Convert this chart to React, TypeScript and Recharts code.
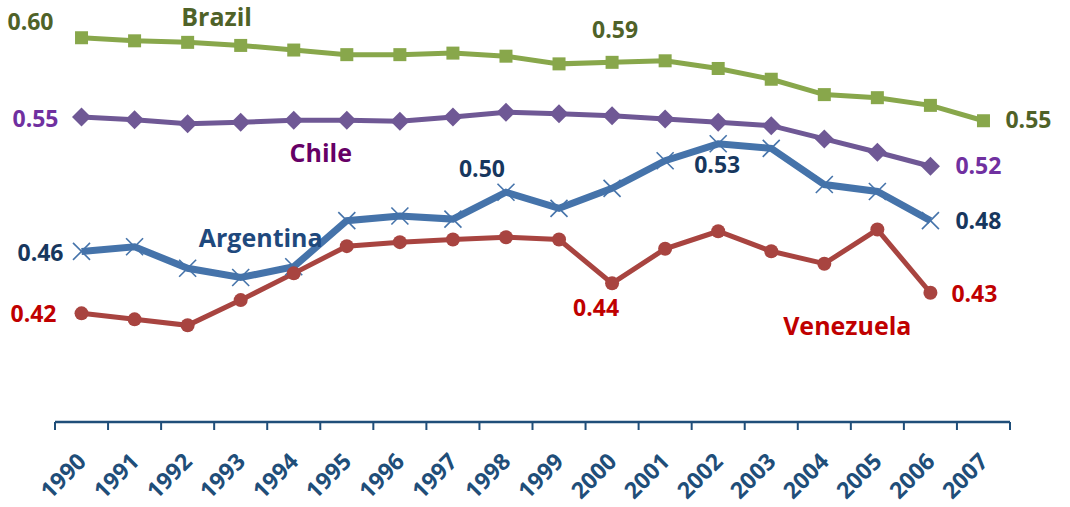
import React from 'react';
import { LineChart, Line, XAxis, YAxis } from 'recharts';

const years = ['1990','1991','1992','1993','1994','1995','1996','1997','1998','1999','2000','2001','2002','2003','2004','2005','2006','2007'];
const brazil = [0.600, 0.598, 0.597, 0.595, 0.592, 0.589, 0.589, 0.590, 0.588, 0.583, 0.584, 0.585, 0.580, 0.573, 0.563, 0.561, 0.556, 0.546];
const chile = [0.5485, 0.5467, 0.5441, 0.5450, 0.5463, 0.5463, 0.5456, 0.5485, 0.5515, 0.5506, 0.5493, 0.5472, 0.5450, 0.5428, 0.5342, 0.5255, 0.5164, null];
const argentina = [0.461, 0.464, 0.450, 0.444, 0.451, 0.481, 0.484, 0.482, 0.4995, 0.489, 0.502, 0.520, 0.531, 0.528, 0.5045, 0.500, 0.481, null];
const venezuela = [0.4207, 0.4168, 0.4129, 0.4293, 0.4467, 0.4644, 0.4670, 0.4687, 0.4702, 0.4687, 0.4402, 0.4627, 0.4741, 0.4611, 0.4530, 0.4752, 0.4341, null];

const seriesNames = ['Brazil', 'Chile', 'Argentina', 'Venezuela'];

// text annotations
const valueLabels = [
  { series: 'Brazil', index: 0, text: '0.60' },
  { series: 'Brazil', index: 10, text: '0.59' },
  { series: 'Brazil', index: 17, text: '0.55' },
  { series: 'Chile', index: 0, text: '0.55' },
  { series: 'Chile', index: 16, text: '0.52' },
  { series: 'Argentina', index: 0, text: '0.46' },
  { series: 'Argentina', index: 8, text: '0.50' },
  { series: 'Argentina', index: 12, text: '0.53' },
  { series: 'Argentina', index: 16, text: '0.48' },
  { series: 'Venezuela', index: 0, text: '0.42' },
  { series: 'Venezuela', index: 10, text: '0.44' },
  { series: 'Venezuela', index: 16, text: '0.43' },
];
const nameLabels = [
  { series: 'Brazil', index: 2, text: 'Brazil' },
  { series: 'Chile', index: 4, text: 'Chile' },
  { series: 'Argentina', index: 3, text: 'Argentina' },
  { series: 'Venezuela', index: 14, text: 'Venezuela' },
];

// placement offsets (style, separate from data)
const labelPlacement: Record<string, { anchor: string; dx: number; dy: number }> = {
  'Brazil-0': { anchor: 'end', dx: -28, dy: -8 },
  'Brazil-10': { anchor: 'middle', dx: 3, dy: -24 },
  'Brazil-17': { anchor: 'start', dx: 22, dy: 7 },
  'Chile-0': { anchor: 'end', dx: -23, dy: 10 },
  'Chile-16': { anchor: 'start', dx: 25, dy: 8 },
  'Argentina-0': { anchor: 'end', dx: -18, dy: 10 },
  'Argentina-8': { anchor: 'end', dx: -1, dy: -15 },
  'Argentina-12': { anchor: 'middle', dx: -1, dy: 29 },
  'Argentina-16': { anchor: 'start', dx: 25, dy: 8 },
  'Venezuela-0': { anchor: 'end', dx: -25, dy: 9 },
  'Venezuela-10': { anchor: 'middle', dx: -16, dy: 33 },
  'Venezuela-16': { anchor: 'start', dx: 21, dy: 9 },
  'name-Brazil-2': { anchor: 'middle', dx: 29, dy: -16 },
  'name-Chile-4': { anchor: 'middle', dx: 27, dy: 42 },
  'name-Argentina-3': { anchor: 'middle', dx: 20, dy: -31 },
  'name-Venezuela-14': { anchor: 'middle', dx: 23, dy: 71 },
};

const style: Record<string, any> = {
  Brazil: { stroke: '#88A74B', width: 5, valueColor: '#4F6228', nameColor: '#4F6228' },
  Chile: { stroke: '#6F5895', width: 5, valueColor: '#7030A0', nameColor: '#660066' },
  Argentina: { stroke: '#4573AA', width: 7, valueColor: '#17375E', nameColor: '#1F497D' },
  Venezuela: { stroke: '#A84440', width: 5, valueColor: '#C00000', nameColor: '#C00000' },
};

const data = years.map((y, i) => ({
  year: y,
  Brazil: brazil[i],
  Chile: chile[i],
  Argentina: argentina[i],
  Venezuela: venezuela[i],
}));

const FONT = '"Open Sans", "Noto Sans", sans-serif';
const W = 1070;
const H = 507;
const M = { top: 7, right: 60, left: 55, bottom: 0 };
const BAND = (W - M.left - M.right) / years.length;
const AXIS_COLOR = '#1F4E79';

const Marker = ({ series, cx, cy }: any) => {
  const c = style[series].stroke;
  if (series === 'Brazil') {
    return <rect x={cx - 6.5} y={cy - 6.5} width={13} height={13} fill={c} />;
  }
  if (series === 'Chile') {
    return <polygon points={`${cx},${cy - 9.5} ${cx + 9.5},${cy} ${cx},${cy + 9.5} ${cx - 9.5},${cy}`} fill={c} />;
  }
  if (series === 'Argentina') {
    const r = 8.5;
    return (
      <g stroke={c} strokeWidth={1.6}>
        <line x1={cx - r} y1={cy - r} x2={cx + r} y2={cy + r} />
        <line x1={cx - r} y1={cy + r} x2={cx + r} y2={cy - r} />
      </g>
    );
  }
  return <circle cx={cx} cy={cy} r={7} fill={c} />;
};

const makeDot = (series: string) => (props: any) => {
  const { cx, cy, index, value } = props;
  if (cx == null || cy == null || value == null || Number.isNaN(cy)) return <g key={`${series}-d-${index}`} />;
  const vl = valueLabels.filter((l) => l.series === series && l.index === index);
  const nl = nameLabels.filter((l) => l.series === series && l.index === index);
  return (
    <g key={`${series}-d-${index}`}>
      <Marker series={series} cx={cx} cy={cy} />
      {vl.map((l) => {
        const p = labelPlacement[`${series}-${index}`];
        return (
          <text key={`v-${l.text}`} x={cx + p.dx} y={cy + p.dy} textAnchor={p.anchor as any}
            fontFamily={FONT} fontWeight={700} fontSize={23} fill={style[series].valueColor}>
            {l.text}
          </text>
        );
      })}
      {nl.map((l) => {
        const p = labelPlacement[`name-${series}-${index}`];
        return (
          <text key={`n-${l.text}`} x={cx + p.dx} y={cy + p.dy} textAnchor={p.anchor as any}
            fontFamily={FONT} fontWeight={700} fontSize={25} fill={style[series].nameColor}>
            {l.text}
          </text>
        );
      })}
    </g>
  );
};

const YearTick = (props: any) => {
  const { x, y, payload } = props;
  const half = payload && payload.offset > 0 ? payload.offset : BAND / 2;
  const isLast = payload.value === years[years.length - 1];
  const tx = x + 6;
  const ty = y + 41;
  return (
    <g>
      <line x1={x - half} x2={x - half} y1={y} y2={y + 8} stroke={AXIS_COLOR} strokeWidth={2} />
      {isLast && <line x1={x + half} x2={x + half} y1={y} y2={y + 8} stroke={AXIS_COLOR} strokeWidth={2} />}
      <text x={tx} y={ty} transform={`rotate(-45, ${tx}, ${ty})`} textAnchor="end"
        fontFamily={FONT} fontWeight={700} fontSize={23} fill="#1F4E79">
        {payload.value}
      </text>
    </g>
  );
};

export default function App() {
  return (
    <div style={{ position: 'absolute', left: 0, top: 0, width: W, height: H, background: '#fff' }}>
      <LineChart width={W} height={H} data={data} margin={M}>
        <XAxis dataKey="year" scale="band" interval={0} tickLine={false} tickSize={0} tickMargin={0}
          axisLine={{ stroke: AXIS_COLOR, strokeWidth: 2.5 }} height={85} tick={<YearTick />} />
        <YAxis hide domain={[0.35, 0.62]} type="number" />
        {seriesNames.map((s) => (
          <Line key={s} dataKey={s} type="linear" stroke={style[s].stroke} strokeWidth={style[s].width}
            dot={makeDot(s)} activeDot={false} isAnimationActive={false} connectNulls={false} />
        ))}
      </LineChart>
    </div>
  );
}
